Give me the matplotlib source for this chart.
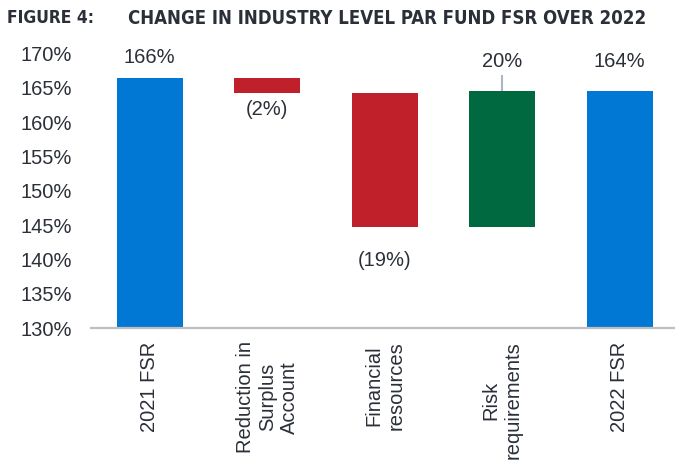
from matplotlib import pyplot as plt
import numpy as np

categories = ['2021 FSR', 'Reduction in\nSurplus\nAccount', 'Financial\nresources',
              'Risk\nrequirements', '2022 FSR']
start_fsr = 166.4
changes = [-2.2, -19.5, 19.9]
end_fsr = 164.6
value_labels = ['166%', '(2%)', '(19%)', '20%', '164%']
yticks = [130, 135, 140, 145, 150, 155, 160, 165, 170]

BLUE = '#0078D4'
RED = '#C0202A'
GREEN = '#006940'
TEXT = '#2B3038'

plt.rcParams['font.family'] = ['Liberation Sans', 'DejaVu Sans']


def waterfall(start, deltas, end):
    bottoms = [130]
    heights = [start - 130]
    level = start
    for d in deltas:
        lo = min(level, level + d)
        bottoms.append(lo)
        heights.append(abs(d))
        level += d
    bottoms.append(130)
    heights.append(end - 130)
    return np.array(bottoms), np.array(heights)


def fit_width(text, renderer, width_px):
    w = text.get_window_extent(renderer).width
    text.set_fontsize(text.get_fontsize() * width_px / w)


fig = plt.figure(figsize=(6.75, 4.63), dpi=100)
ax = fig.add_axes([91 / 675, 1 - 328.3 / 463, 1 - 91 / 675, (328.3 - 53.5) / 463])

bottoms, heights = waterfall(start_fsr, changes, end_fsr)
colors = [BLUE] + [RED if d < 0 else GREEN for d in changes] + [BLUE]
x = np.arange(len(categories))
ax.bar(x, heights, bottom=bottoms, width=0.562, color=colors)

# value labels: above for totals/increases, below for decreases
offsets = [20.6, -15.7, -32.7, 29.0, 28.7]
for i, (b, h, lab, off) in enumerate(zip(bottoms, heights, value_labels, offsets)):
    anchor = b + h if off > 0 else b
    ax.annotate(lab, (x[i], anchor), xytext=(0, off), textcoords='offset pixels',
                ha='center', va='center', fontsize=14.5, color=TEXT)

# leader line on the green bar
top = bottoms[3] + heights[3]
ax.plot([x[3], x[3]], [top, top + 2.2], color='#A9B6C8', lw=1.5, solid_capstyle='butt')

ax.set_ylim(130, 170)
ax.set_xlim(-0.5, 4.47)
ax.set_yticks(yticks)
ax.set_yticklabels(['%d%%' % v for v in yticks])
ax.set_xticks(x)
ax.set_xticklabels(categories, rotation=90, ha='center', va='top', multialignment='center')
ax.tick_params(axis='y', length=0, pad=13.7, labelsize=14.5, labelcolor=TEXT)
ax.tick_params(axis='x', length=0, pad=9.4, labelsize=14.5, labelcolor=TEXT)
for s in ('top', 'right', 'left'):
    ax.spines[s].set_visible(False)
ax.spines['bottom'].set_color('#BFBFBF')
ax.spines['bottom'].set_linewidth(1.6)

title_font = dict(fontweight='bold', color=TEXT, fontstretch='condensed',
                  family=['DejaVu Sans'])
t1 = fig.text(7 / 675, 1 - 18 / 463, 'FIGURE 4:', ha='left', va='center', fontsize=13,
              **title_font)
t2 = fig.text(128 / 675, 1 - 18 / 463, 'CHANGE IN INDUSTRY LEVEL PAR FUND FSR OVER 2022',
              ha='left', va='center', fontsize=13, **title_font)
renderer = fig.canvas.get_renderer()
fit_width(t1, renderer, 87)
fit_width(t2, renderer, 517)

fig.savefig('out.png', dpi=100)
